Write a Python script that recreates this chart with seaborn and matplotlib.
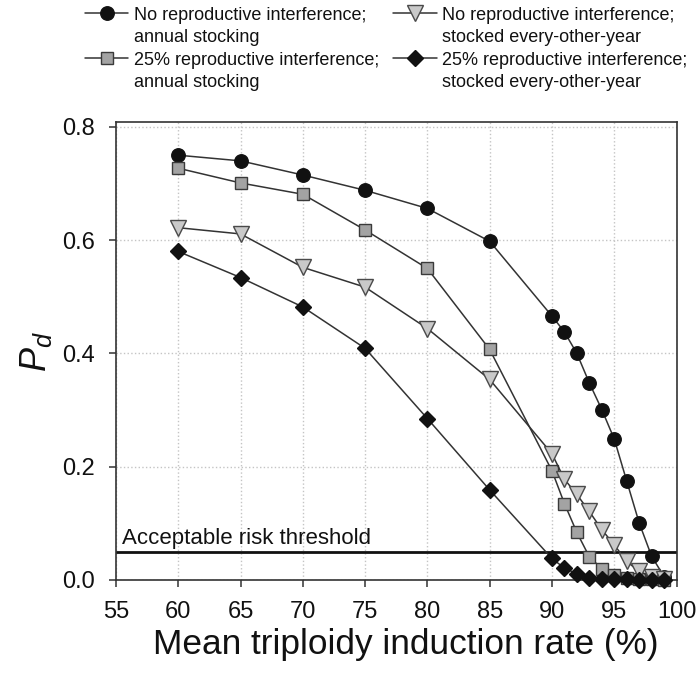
import matplotlib

matplotlib.use("Agg")
import matplotlib.pyplot as plt
import numpy as np
import pandas as pd
import seaborn as sns
from matplotlib.legend_handler import HandlerLine2D
from matplotlib.lines import Line2D

induction_rate = [60, 65, 70, 75, 80, 85, 90, 91, 92, 93, 94, 95, 96, 97, 98, 99]

no_interf_annual = [0.750, 0.740, 0.715, 0.688, 0.656, 0.598, 0.466, 0.438,
                    0.400, 0.348, 0.301, 0.249, 0.175, 0.101, 0.042, 0.006]
interf25_annual = [0.727, 0.701, 0.681, 0.618, 0.550, 0.407, 0.193, 0.135,
                   0.084, 0.041, 0.020, 0.008, 0.003, 0.001, 0.001, 0.000]
no_interf_biennial = [0.622, 0.611, 0.552, 0.517, 0.444, 0.354, 0.223, 0.178,
                      0.151, 0.121, 0.089, 0.062, 0.033, 0.015, 0.006, 0.002]
interf25_biennial = [0.580, 0.534, 0.482, 0.409, 0.285, 0.159, 0.038, 0.021,
                     0.011, 0.004, 0.002, 0.001, 0.001, 0.000, 0.000, 0.000]

series_labels = [
    "No reproductive interference;\nannual stocking",
    "25% reproductive interference;\nannual stocking",
    "No reproductive interference;\nstocked every-other-year",
    "25% reproductive interference;\nstocked every-other-year",
]
risk_threshold = 0.05

# marker, face colour, edge colour, size
STYLES = [
    ("o", "#111111", "#111111", 9.7),
    ("s", "#a3a3a3", "#3a3a3a", 8.6),
    ("v", "#c9c9c9", "#4a4a4a", 11.9),
    ("D", "#111111", "#111111", 8.3),
]


class FirstLineHandler(HandlerLine2D):
    """Put the legend marker next to the first line of a two-line label."""

    def create_artists(self, legend, orig_handle, xdescent, ydescent, width,
                       height, fontsize, trans):
        artists = super().create_artists(legend, orig_handle, xdescent, ydescent,
                                         width, height, fontsize, trans)
        for art in artists:
            art.set_ydata(np.asarray(art.get_ydata()) + 0.75 * fontsize)
        return artists


def build_frame() -> pd.DataFrame:
    cols = [no_interf_annual, interf25_annual, no_interf_biennial, interf25_biennial]
    parts = []
    for label, values in zip(series_labels, cols):
        parts.append(pd.DataFrame({"rate": induction_rate, "pd": values, "series": label}))
    return pd.concat(parts, ignore_index=True)


def main() -> None:
    sns.set_style("ticks")
    plt.rcParams["font.family"] = ["Liberation Sans", "DejaVu Sans"]
    plt.rcParams["mathtext.fontset"] = "custom"
    plt.rcParams["mathtext.it"] = "Liberation Sans:italic"
    plt.rcParams["mathtext.rm"] = "Liberation Sans"

    df = build_frame()

    fig = plt.figure(figsize=(6.98, 6.73), dpi=100)
    ax = fig.add_axes([0.1662, 0.1382, 0.803, 0.680])

    for label, (marker, face, edge, size) in zip(series_labels, STYLES):
        sub = df[df["series"] == label]
        sns.lineplot(data=sub, x="rate", y="pd", ax=ax, label=label,
                     color="#333333", linewidth=1.1, marker=marker,
                     markersize=size, markerfacecolor=face, markeredgecolor=edge,
                     markeredgewidth=1.0, clip_on=False, zorder=3)
    handles, labels = ax.get_legend_handles_labels()
    if ax.get_legend() is not None:
        ax.get_legend().remove()

    ax.axhline(risk_threshold, color="#111111", linewidth=2.0, zorder=2)
    ax.text(55.46, risk_threshold + 0.004, "Acceptable risk threshold",
            fontsize=16, color="#111111", ha="left", va="bottom")

    ax.set_xlim(55, 100)
    ax.set_ylim(0, 0.808)
    ax.set_xticks(range(55, 101, 5))
    ax.set_yticks([0.0, 0.2, 0.4, 0.6, 0.8])
    ax.set_yticklabels(["0.0", "0.2", "0.4", "0.6", "0.8"])
    ax.grid(True, linestyle=":", color="#c4c4c4", linewidth=1.0)
    ax.set_axisbelow(True)

    for side in ax.spines.values():
        side.set_color("#333333")
        side.set_linewidth(1.2)
    ax.tick_params(axis="both", direction="out", length=5, width=1.1,
                   color="#333333", labelsize=17, labelcolor="#111111")
    ax.tick_params(axis="x", pad=10)
    ax.tick_params(axis="y", pad=10)

    ax.set_xlabel("Mean triploidy induction rate (%)", fontsize=25.4,
                  color="#111111", labelpad=4)
    ax.xaxis.label.set_x(0.517)
    ax.set_ylabel("$P_d$", fontsize=26, color="#111111", labelpad=6)

    leg = fig.legend(handles, labels, ncol=2, frameon=False, fontsize=13,
                     loc="upper left", bbox_to_anchor=(0.1035, 1.008),
                     handlelength=2.4, handletextpad=0.3, columnspacing=0.8,
                     labelspacing=0.3, borderpad=0.2,
                     handler_map={Line2D: FirstLineHandler()})
    for txt in leg.get_texts():
        txt.set_linespacing(1.38)
        txt.set_color("#111111")

    fig.savefig("out.png", dpi=100)
    plt.close(fig)


if __name__ == "__main__":
    main()
